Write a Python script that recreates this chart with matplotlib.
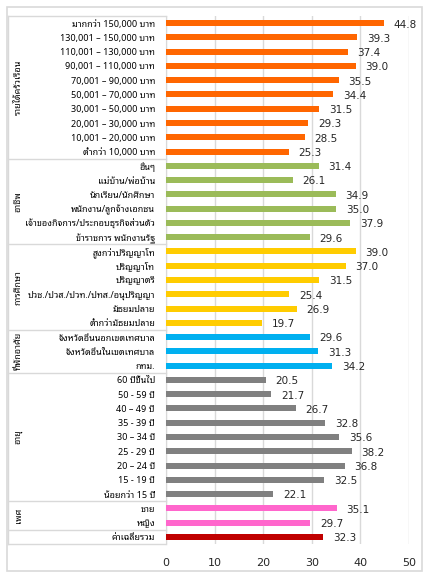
import matplotlib
matplotlib.use("Agg")
import matplotlib.pyplot as plt
from matplotlib.patches import Rectangle
from matplotlib.transforms import blended_transform_factory

plt.rcParams['font.family'] = ['Noto Sans Thai Looped', 'DejaVu Sans']
num_font = ['DejaVu Sans']

# data per group (top to bottom, as shown)
income_labels = ['มากกว่า 150,000 บาท', '130,001 – 150,000 บาท', '110,001 – 130,000 บาท',
                 '90,001 – 110,000 บาท', '70,001 – 90,000 บาท', '50,001 – 70,000 บาท',
                 '30,001 – 50,000 บาท', '20,001 – 30,000 บาท', '10,001 – 20,000 บาท',
                 'ต่ำกว่า 10,000 บาท']
income_values = [44.8, 39.3, 37.4, 39.0, 35.5, 34.4, 31.5, 29.3, 28.5, 25.3]

job_labels = ['อื่นๆ', 'แม่บ้าน/พ่อบ้าน', 'นักเรียน/นักศึกษา', 'พนักงาน/ลูกจ้างเอกชน',
              'เจ้าของกิจการ/ประกอบธุรกิจส่วนตัว', 'ข้าราชการ พนักงานรัฐ']
job_values = [31.4, 26.1, 34.9, 35.0, 37.9, 29.6]

edu_labels = ['สูงกว่าปริญญาโท', 'ปริญญาโท', 'ปริญญาตรี', 'ปวช./ปวส./ปวท./ปทส./อนุปริญญา',
              'มัธยมปลาย', 'ต่ำกว่ามัธยมปลาย']
edu_values = [39.0, 37.0, 31.5, 25.4, 26.9, 19.7]

home_labels = ['จังหวัดอื่นนอกเขตเทศบาล', 'จังหวัดอื่นในเขตเทศบาล', 'กทม.']
home_values = [29.6, 31.3, 34.2]

age_labels = ['60 ปีขึ้นไป', '50 - 59 ปี', '40 – 49 ปี', '35 - 39 ปี', '30 – 34 ปี',
              '25 - 29 ปี', '20 – 24 ปี', '15 - 19 ปี', 'น้อยกว่า 15 ปี']
age_values = [20.5, 21.7, 26.7, 32.8, 35.6, 38.2, 36.8, 32.5, 22.1]

sex_labels = ['ชาย', 'หญิง']
sex_values = [35.1, 29.7]

total_labels = ['ค่าเฉลี่ยรวม']
total_values = [32.3]

groups = [
    ('รายได้ครัวเรือน', income_labels, income_values, '#FF6600'),
    ('อาชีพ', job_labels, job_values, '#9BBB59'),
    ('การศึกษา', edu_labels, edu_values, '#FFCC00'),
    ('ที่พักอาศัย', home_labels, home_values, '#00B0F0'),
    ('อายุ', age_labels, age_values, '#808080'),
    ('เพศ', sex_labels, sex_values, '#FF66CC'),
    ('', total_labels, total_values, '#C00000'),
]

W, H = 433, 579
fig = plt.figure(figsize=(W / 100, H / 100), dpi=100)
fig.patches.append(Rectangle((7 / W, 1 - 571 / H), 415 / W, 564 / H, transform=fig.transFigure,
                             fill=False, edgecolor='#d9d9d9', linewidth=1.2))

ax = fig.add_axes([166 / W, 1 - 544 / H, 243 / W, 528 / H])
line_col = '#d9d9d9'
trans = blended_transform_factory(fig.transFigure, ax.transData)

row = 0
bounds = [-0.5]
for gname, labels, values, color in groups:
    ys = list(range(row, row + len(labels)))
    ax.barh(ys, values, height=0.42, color=color, zorder=3)
    for y, lab, v in zip(ys, labels, values):
        ax.annotate(f'{v:.1f}', (v, y), xytext=(7, -1), textcoords='offset points',
                    ha='left', va='center', fontsize=7.5, color='#262626', family=num_font)
        ax.text(155 / W, y, lab, transform=trans, ha='right', va='center_baseline',
                fontsize=6.5, color='#000000')
    if gname:
        ax.text(18 / W, (ys[0] + ys[-1]) / 2, gname, transform=trans, rotation=90,
                ha='center', va='center', fontsize=6.5, color='#000000')
    row += len(labels)
    bounds.append(row - 0.5)

for b in bounds:
    ax.plot([8 / W, 166 / W], [b, b], transform=trans, color=line_col, lw=1, clip_on=False)
ax.plot([8 / W, 8 / W], [bounds[0], bounds[-1]], transform=trans, color=line_col, lw=1,
        clip_on=False)

ax.set_xlim(0, 50)
ax.set_ylim(row - 0.5, -0.5)
ax.set_xticks(range(0, 51, 10))
ax.set_yticks([])
ax.grid(axis='x', color=line_col, linewidth=1, zorder=0)
for s in ['top', 'right', 'bottom']:
    ax.spines[s].set_visible(False)
ax.spines['left'].set_color(line_col)
ax.tick_params(axis='x', length=0, labelsize=8, pad=10, colors='#262626')
for t in ax.get_xticklabels():
    t.set_family(num_font)

fig.savefig('out.png', dpi=100)
